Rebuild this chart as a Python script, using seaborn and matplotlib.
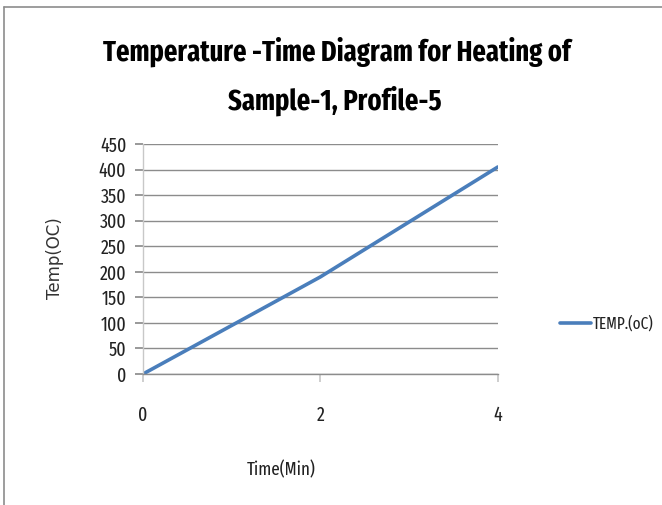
import matplotlib
matplotlib.use("Agg")
import matplotlib.pyplot as plt
from matplotlib.lines import Line2D
from matplotlib.font_manager import FontProperties
from matplotlib.textpath import TextPath
import seaborn as sns
import pandas as pd

time_min = [0, 2, 4]
temp_c = [0, 190, 405]
y_ticks = [0, 50, 100, 150, 200, 250, 300, 350, 400, 450]
x_ticks = [0, 2, 4]
series_name = "TEMP.(oC)"
title_lines = ["Temperature -Time Diagram for Heating of", "Sample-1, Profile-5"]

sns.set_theme(style="white")
narrow = ["Fira Sans Extra Condensed", "PT Sans Narrow", "DejaVu Sans"]
plt.rcParams["font.family"] = narrow

DPI = 100


def fit_size(text, prop, width_px):
    """Font size (pt) whose ink width equals width_px."""
    ref = 100.0
    w = TextPath((0, 0), text, size=ref, prop=prop).get_extents().width
    return ref * (width_px * 72.0 / DPI) / w


df = pd.DataFrame({"Time": time_min, "Temp": temp_c, "Series": series_name})

fig = plt.figure(figsize=(6.62, 5.05), dpi=DPI)
ax = fig.add_axes([0.216, 0.2594, 0.536, 0.4555])

line_color = "#4a7ebb"
sns.lineplot(data=df, x="Time", y="Temp", hue="Series", palette=[line_color],
             linewidth=2.6, ax=ax, legend=False)

ax.set_xlim(0, 4)
ax.set_ylim(0, 450)
ax.set_yticks(y_ticks)
ax.set_xticks(x_ticks)
ax.yaxis.grid(True, color="#8c8c8c", linewidth=1.0)
ax.xaxis.grid(False)
for s in ["top", "right"]:
    ax.spines[s].set_visible(False)
ax.spines["left"].set_color("#c8c8c8")
ax.spines["left"].set_linewidth(1.0)
ax.spines["bottom"].set_color("#8c8c8c")
ax.spines["bottom"].set_linewidth(1.0)

tick_prop = FontProperties(family=narrow, size=14)
ax.tick_params(axis="y", length=6, color="#8c8c8c", pad=6,
               labelcolor="#222222", left=True)
ax.tick_params(axis="x", length=6, color="#c8c8c8", direction="out",
               pad=17, labelcolor="#222222", bottom=True)
for lbl in ax.get_yticklabels() + ax.get_xticklabels():
    lbl.set_fontproperties(tick_prop)

ax.set_xlabel("Time(Min)", fontsize=fit_size("Time(Min)", FontProperties(family=narrow), 68),
              family=narrow, color="#222222")
ax.xaxis.set_label_coords(0.39, -0.375)
ax.set_ylabel("Temp(OC)", fontsize=12, family=["DejaVu Sans"], color="#333333")
ax.yaxis.set_label_coords(-0.222, 0.505)

title_prop = FontProperties(family=narrow, weight="bold")
tsize = fit_size(title_lines[0], title_prop, 469)
fig.text(0.509, 0.897, title_lines[0], ha="center", va="center",
         fontproperties=title_prop, fontsize=tsize, color="black")
fig.text(0.506, 0.80, title_lines[1], ha="center", va="center",
         fontproperties=title_prop, fontsize=tsize, color="black")

# legend entry on the right
fig.add_artist(Line2D([0.846, 0.892], [0.36, 0.36], color=line_color,
                      linewidth=2.6, transform=fig.transFigure))
leg_prop = FontProperties(family=narrow)
fig.text(0.895, 0.36, series_name, ha="left", va="center",
         fontproperties=leg_prop, fontsize=fit_size(series_name, leg_prop, 60),
         color="#222222")

# outer frame
fig.add_artist(Line2D([0.006, 0.006], [0.0, 0.986], color="#8c8c8c",
                      linewidth=1.2, transform=fig.transFigure))
fig.add_artist(Line2D([0.006, 1.0], [0.986, 0.986], color="#8c8c8c",
                      linewidth=1.2, transform=fig.transFigure))

fig.savefig("out.png", dpi=DPI, facecolor="white")
